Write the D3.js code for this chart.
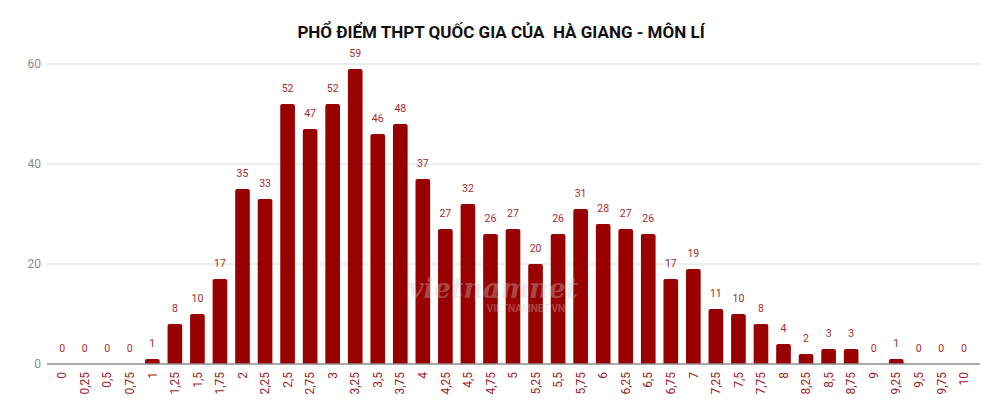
<!DOCTYPE html>
<html>
<head>
<meta charset="utf-8">
<script src="https://cdn.jsdelivr.net/npm/d3@7"></script>
<style>
  body { margin: 0; background: #fff; }
  text { font-family: Roboto, "Noto Sans", sans-serif; }
</style>
</head>
<body>
<div id="chart"></div>
<script>
var categories = ["0", "0,25", "0,5", "0,75", "1", "1,25", "1,5", "1,75", "2", "2,25",
    "2,5", "2,75", "3", "3,25", "3,5", "3,75", "4", "4,25", "4,5", "4,75",
    "5", "5,25", "5,5", "5,75", "6", "6,25", "6,5", "6,75", "7", "7,25",
    "7,5", "7,75", "8", "8,25", "8,5", "8,75", "9", "9,25", "9,5", "9,75", "10"]
var values = [0, 0, 0, 0, 1, 8, 10, 17, 35, 33,
    52, 47, 52, 59, 46, 48, 37, 27, 32, 26,
    27, 20, 26, 31, 28, 27, 26, 17, 19, 11,
    10, 8, 4, 2, 3, 3, 0, 1, 0, 0, 0]
var yTicks = [0, 20, 40, 60]
var title = "PHỔ ĐIỂM THPT QUỐC GIA CỦA  HÀ GIANG - MÔN LÍ"

var width = 1000,
    height = 414

var svg = d3.select("#chart")
    .append("svg")
    .attr("width", width)
    .attr("height", height)

var x = d3.scaleBand()
    .domain(categories)
    .range([51, 975])
    .paddingInner(0.35)
    .paddingOuter(0.17)

var y = d3.scaleLinear()
    .domain([0, 60])
    .range([364, 64])

// gridlines
svg.append("g")
    .selectAll("line")
    .data(yTicks.filter(function (d) { return d > 0 }))
    .enter()
    .append("line")
    .attr("x1", 47)
    .attr("x2", 980)
    .attr("y1", function (d) { return y(d) })
    .attr("y2", function (d) { return y(d) })
    .attr("stroke", "#dcdcdc")
    .attr("stroke-width", 1)

// y labels
svg.append("g")
    .selectAll("text")
    .data(yTicks)
    .enter()
    .append("text")
    .attr("x", 41)
    .attr("y", function (d) { return y(d) })
    .attr("dy", "0.35em")
    .attr("text-anchor", "end")
    .attr("fill", "#8a8a8a")
    .style("font-size", "12px")
    .text(function (d) { return d })

// bars with rounded tops
var r = 2
svg.append("g")
    .selectAll("path")
    .data(values.map(function (v, i) { return { cat: categories[i], v: v } }).filter(function (d) { return d.v > 0 }))
    .enter()
    .append("path")
    .attr("fill", "#990000")
    .attr("d", function (d) {
        var x0 = x(d.cat), w = x.bandwidth(), y0 = y(d.v), yb = y(0)
        var rr = Math.min(r, (yb - y0) / 2)
        return "M" + x0 + "," + yb +
            "V" + (y0 + rr) +
            "Q" + x0 + "," + y0 + " " + (x0 + rr) + "," + y0 +
            "H" + (x0 + w - rr) +
            "Q" + (x0 + w) + "," + y0 + " " + (x0 + w) + "," + (y0 + rr) +
            "V" + yb + "Z"
    })

// axis line
svg.append("line")
    .attr("x1", 47)
    .attr("x2", 980)
    .attr("y1", y(0))
    .attr("y2", y(0))
    .attr("stroke", "#8c8c8c")
    .attr("stroke-width", 1.3)

// value labels
svg.append("g")
    .selectAll("text")
    .data(values)
    .enter()
    .append("text")
    .attr("x", function (d, i) { return x(categories[i]) + x.bandwidth() / 2 })
    .attr("y", function (d) { return y(d) - 12 })
    .attr("text-anchor", "middle")
    .attr("fill", "#a32a2a")
    .style("font-size", "10.5px")
    .text(function (d) { return d })

// x labels, rotated
svg.append("g")
    .selectAll("text")
    .data(categories)
    .enter()
    .append("text")
    .attr("transform", function (d) {
        return "translate(" + (x(d) + x.bandwidth() / 2) + "," + (y(0) + 8) + ") rotate(-90)"
    })
    .attr("dy", "0.35em")
    .attr("text-anchor", "end")
    .attr("fill", "#9a1c1c")
    .style("font-size", "12px")
    .text(function (d) { return d })

// watermark
var wm = svg.append("g").attr("opacity", 0.35).attr("fill", "#c8c8c8")
wm.append("text")
    .attr("x", 493)
    .attr("y", 298)
    .attr("text-anchor", "middle")
    .style("font-family", "'DejaVu Serif', serif")
    .style("font-size", "27px")
    .style("font-style", "italic")
    .style("font-weight", "bold")
    .text("vietnamnet")
wm.append("text")
    .attr("x", 565)
    .attr("y", 312)
    .attr("text-anchor", "end")
    .style("font-size", "10px")
    .style("font-weight", "bold")
    .text("VIETNAMNET.VN")

svg.append("text")
    .attr("x", 501)
    .attr("y", 38)
    .attr("text-anchor", "middle")
    .attr("fill", "#111")
    .style("font-size", "17px")
    .style("font-weight", "bold")
    .style("white-space", "pre")
    .text(title)
</script>
</body>
</html>
